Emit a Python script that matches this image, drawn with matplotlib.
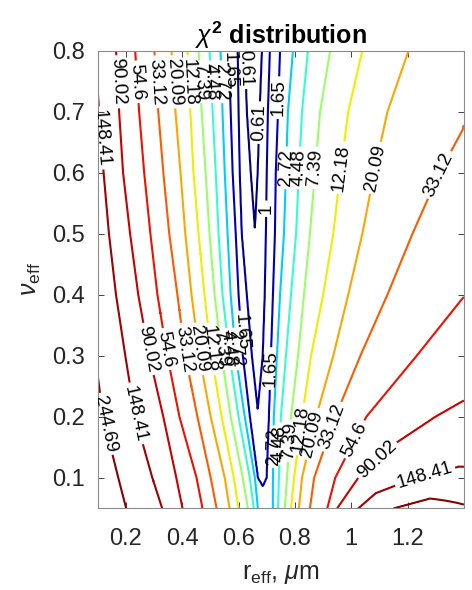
import numpy as np
import matplotlib
matplotlib.use("Agg")
import matplotlib.pyplot as plt

plt.rcParams['font.family'] = ['Liberation Sans', 'DejaVu Sans']
plt.rcParams['mathtext.fontset'] = 'custom'
plt.rcParams['mathtext.rm'] = 'Liberation Sans'
plt.rcParams['mathtext.it'] = 'Liberation Sans:italic'
plt.rcParams['mathtext.bf'] = 'Liberation Sans:bold'

nan = np.nan

# contour levels of chi^2 and their line colours
levels = [0.61, 1, 1.65, 2.72, 4.48, 7.39, 12.18, 20.09, 33.12, 54.6, 90.02, 148.41, 244.69]
level_colors = ['#000080', '#00009c', '#0000b8', '#00ccff', '#33ffcc', '#99ff66', '#eeee00',
                '#ffa500', '#ff5a00', '#ee1100', '#c80000', '#a00000', '#880000']

# nu_eff rows at which the contour crossings were read
nu_rows = [0.05, 0.075, 0.1, 0.15, 0.2, 0.3, 0.4, 0.5, 0.6, 0.7, 0.8]

# r_eff where each level crosses a row, left of the chi^2 valley (one line per level)
r_left = [
    [nan, nan, nan, nan, nan, nan, nan, nan, 0.643, 0.629, 0.622],
    [nan, nan, nan, nan, nan, 0.647, 0.629, 0.611, 0.604, 0.600, 0.597],
    [nan, nan, 0.668, nan, 0.640, 0.615, 0.600, 0.590, 0.579, 0.572, 0.565],
    [0.668, nan, 0.658, nan, 0.622, 0.590, 0.572, 0.561, 0.551, 0.543, 0.536],
    [0.654, nan, 0.640, nan, 0.600, 0.568, 0.543, 0.529, 0.519, 0.508, 0.497],
    [0.633, nan, 0.615, nan, 0.572, 0.540, 0.515, 0.497, 0.483, 0.469, 0.458],
    [0.600, nan, 0.583, nan, 0.540, 0.504, 0.479, 0.458, 0.440, 0.429, 0.419],
    [0.568, nan, 0.551, nan, 0.501, 0.461, 0.433, 0.411, 0.394, 0.376, 0.362],
    [0.522, nan, 0.501, nan, 0.454, 0.411, 0.383, 0.354, 0.333, 0.315, 0.301],
    [0.472, nan, 0.451, nan, 0.390, 0.347, 0.312, 0.287, 0.265, 0.247, 0.233],
    [0.401, nan, 0.379, nan, 0.333, 0.283, 0.244, 0.215, 0.190, 0.176, 0.165],
    [0.329, nan, 0.294, nan, 0.233, 0.198, 0.165, 0.140, 0.121, 0.105, 0.091],
    [0.201, nan, 0.173, nan, 0.119, 0.091, 0.069, 0.051, 0.033, 0.016, 0.000],
]

# same, right of the valley
r_right = [
    [nan, nan, nan, nan, nan, nan, nan, nan, 0.668, 0.675, 0.683],
    [nan, nan, nan, nan, nan, 0.686, 0.693, 0.697, 0.700, 0.704, 0.711],
    [nan, nan, 0.700, nan, 0.708, 0.715, 0.722, 0.729, 0.732, 0.740, 0.747],
    [0.722, nan, 0.722, nan, 0.725, 0.736, 0.747, 0.761, 0.768, 0.775, 0.793],
    [0.740, nan, 0.743, nan, 0.750, 0.768, 0.786, 0.804, 0.814, 0.825, 0.846],
    [0.764, nan, 0.772, nan, 0.786, 0.811, 0.832, 0.853, 0.871, 0.889, 0.925],
    [0.786, nan, 0.797, nan, 0.825, 0.857, 0.900, 0.936, 0.961, 0.989, 1.039],
    [0.814, nan, 0.825, nan, 0.875, 0.936, 0.989, 1.039, 1.081, 1.128, 1.203],
    [0.853, nan, 0.868, nan, 0.943, 1.032, 1.128, 1.217, 1.313, 1.430, 1.550],
    [0.915, nan, 0.943, nan, 1.053, 1.232, 1.405, 1.583, 1.761, 1.939, 2.117],
    [0.950, nan, 1.025, 1.135, 1.298, 1.676, 2.070, 2.420, 2.780, 3.130, 3.490],
    [1.025, 1.087, 1.228, nan, 2.050, 2.600, 3.000, 3.300, 3.600, 3.900, 4.200],
    [nan, nan, nan, nan, nan, nan, nan, nan, nan, nan, nan],
]

# closed lower ends of the three lowest levels
tip_nu = [0.507, 0.211, 0.0855]
tip_r = [0.658, 0.668, 0.686]

# bottom of the valley
valley_nu = [0.05, 0.0855, 0.211, 0.507, 0.8]
valley_r = [0.693, 0.686, 0.668, 0.658, 0.654]
valley_chi2 = [1.86, 1.65, 1.0, 0.61, 0.47]

# the 244.69 arch in the lower right corner and the hump under it
arch_nu = [0.05, 0.066]
arch_r = [1.150, 1.279]
hump_nu = [0.05, 0.066, 0.1]
hump_r = [1.279, 1.279, 1.30]
hump_chi2 = [299, 244.69, 156]

# chi^2 along the right edge, r_eff = 1.4
edge_nu = [0.05, 0.056, 0.118, 0.226, 0.396, 0.678, 0.8]
edge_chi2 = [260, 244.69, 148.41, 90.02, 54.6, 33.12, 27]

# where the contour labels sit: level, side of the valley, nu_eff
label_level = [90.02, 54.6, 33.12, 20.09, 12.18, 7.39, 4.48, 2.72, 1.65, 0.61, 148.41,
               0.61, 1.65, 1,
               2.72, 4.48, 7.39, 12.18, 20.09, 33.12,
               90.02, 54.6, 33.12, 20.09, 12.18, 7.39, 4.48, 2.72, 1.65,
               1.65, 148.41, 244.69,
               2.72, 4.48, 7.39, 12.18, 20.09, 33.12, 54.6, 90.02, 148.41]
label_side = ['L'] * 11 + ['R'] * 3 + ['R'] * 6 + ['L'] * 9 + ['R', 'L', 'L'] + ['R'] * 9
label_nu = [0.749, 0.749, 0.749, 0.749, 0.749, 0.749, 0.749, 0.749, 0.768, 0.772, 0.657,
            0.682, 0.723, 0.541,
            0.608, 0.608, 0.608, 0.608, 0.608, 0.597,
            0.311, 0.311, 0.311, 0.311, 0.311, 0.311, 0.311, 0.311, 0.339,
            0.279, 0.205, 0.188,
            0.151, 0.156, 0.161, 0.180, 0.172, 0.184, 0.163, 0.130, 0.104]


def crossing(i, table, nu):
    row = np.array(table[i], dtype=float)
    ok = ~np.isnan(row)
    pn = list(np.array(nu_rows)[ok])
    pr = list(row[ok])
    if i < len(tip_nu):
        pn.append(tip_nu[i])
        pr.append(tip_r[i])
    if not pn:
        return None
    order = np.argsort(pn)
    pn = np.array(pn)[order]
    pr = np.array(pr)[order]
    if nu < pn[0] or nu > pn[-1]:
        return None
    return np.interp(nu, pn, pr)


# rebuild the chi^2 surface from the read crossings
r_grid = np.linspace(0.1, 1.4, 521)
nu_grid = np.linspace(0.05, 0.8, 451)
log_lev = np.log(levels)
logz = np.zeros((nu_grid.size, r_grid.size))
for k, nu in enumerate(nu_grid):
    kr = [np.interp(nu, valley_nu, valley_r)]
    kz = [np.interp(nu, valley_nu, np.log(valley_chi2))]
    for i in range(len(levels)):
        rl = crossing(i, r_left, nu)
        if rl is not None:
            kr.append(rl)
            kz.append(log_lev[i])
        rr = crossing(i, r_right, nu)
        if rr is not None and rr < 1.4:
            kr.append(rr)
            kz.append(log_lev[i])
    if nu <= arch_nu[-1]:
        kr.append(np.interp(nu, arch_nu, arch_r))
        kz.append(np.log(244.69))
    if nu <= hump_nu[-1]:
        kr.append(np.interp(nu, hump_nu, hump_r))
        kz.append(np.interp(nu, hump_nu, np.log(hump_chi2)))
    kr.append(1.4)
    kz.append(np.interp(nu, edge_nu, np.log(edge_chi2)))
    order = np.argsort(kr)
    kr = np.array(kr)[order]
    kz = np.array(kz)[order]
    if kr[0] > 0.1:
        slope = (kz[1] - kz[0]) / (kr[1] - kr[0])
        z0 = kz[0] + slope * (0.1 - kr[0])
        kr = np.insert(kr, 0, 0.1)
        kz = np.insert(kz, 0, z0)
    logz[k] = np.interp(r_grid, kr, kz)
chi2 = np.exp(logz)

fig = plt.figure(figsize=(4.72, 5.9), dpi=100)
ax = fig.add_axes([0.207, 0.1385, 0.776, 0.7756])

cs = ax.contour(r_grid, nu_grid, chi2, levels=levels, colors=level_colors, linewidths=1.5)

spots = []
for lev, side, nu in zip(label_level, label_side, label_nu):
    i = levels.index(lev)
    r = crossing(i, r_left if side == 'L' else r_right, nu)
    spots.append((r, nu))
ax.clabel(cs, manual=spots, inline=True, inline_spacing=3, fontsize=13.5, colors='k',
          fmt=lambda v: f'{v:g}')

ax.set_xlim(0.1, 1.4)
ax.set_ylim(0.05, 0.8)
ax.set_xticks([0.2, 0.4, 0.6, 0.8, 1.0, 1.2])
ax.set_xticklabels(['0.2', '0.4', '0.6', '0.8', '1', '1.2'])
ax.set_yticks([0.1, 0.2, 0.3, 0.4, 0.5, 0.6, 0.7, 0.8])
ax.set_yticklabels(['0.1', '0.2', '0.3', '0.4', '0.5', '0.6', '0.7', '0.8'])
ax.tick_params(direction='in', top=True, right=True, length=4, width=0.6,
               colors='#262626', labelsize=17)
ax.tick_params(axis='x', pad=14)
ax.tick_params(axis='y', pad=9)
for s in ax.spines.values():
    s.set_color('#8c8c8c')
    s.set_linewidth(0.8)

ax.set_title(r'$\chi^{\mathbf{2}}$ distribution', fontsize=18, fontweight='bold', pad=5)
ax.set_xlabel(r'r$_{\mathrm{eff}}$, $\mu$m', fontsize=18, color='#262626', labelpad=9)
ax.set_ylabel(r'$\nu_{\mathrm{eff}}$', fontsize=18, color='#262626', labelpad=7)

fig.savefig('out.png', dpi=100)
